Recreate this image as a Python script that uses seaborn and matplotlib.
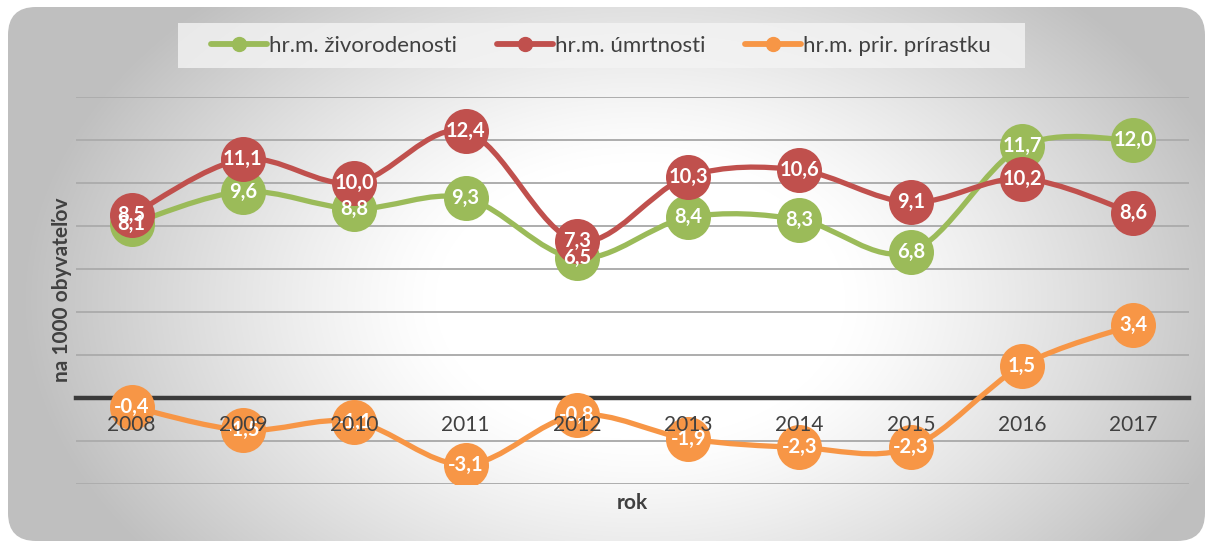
import numpy as np
import pandas as pd
import seaborn as sns
import matplotlib
matplotlib.use("Agg")
import matplotlib.pyplot as plt
from matplotlib.path import Path
from matplotlib.patches import PathPatch, FancyBboxPatch, Rectangle
from matplotlib.lines import Line2D

# ---------------- data ----------------
years = ["2008", "2009", "2010", "2011", "2012", "2013", "2014", "2015", "2016", "2017"]
births = [8.1, 9.6, 8.8, 9.3, 6.5, 8.4, 8.3, 6.8, 11.7, 12.0]
deaths = [8.5, 11.1, 10.0, 12.4, 7.3, 10.3, 10.6, 9.1, 10.2, 8.6]
natural = [-0.4, -1.5, -1.1, -3.1, -0.8, -1.9, -2.3, -2.3, 1.5, 3.4]
series_names = ["hr.m. živorodenosti", "hr.m. úmrtnosti", "hr.m. prir. prírastku"]
series_colors = ["#9BBB59", "#C0504D", "#F79646"]
y_label = "na 1000 obyvateľov"
x_label = "rok"

rows = []
for name, vals in zip(series_names, [births, deaths, natural]):
    for i, (yr, v) in enumerate(zip(years, vals)):
        rows.append({"series": name, "year": yr, "pos": i, "value": v})
df = pd.DataFrame(rows)

sns.set_theme(style="white")
plt.rcParams["font.family"] = ["Lato", "DejaVu Sans"]
TXT = "#404040"

W, H = 1208, 543
fig = plt.figure(figsize=(W / 100, H / 100), dpi=100)

# ---------- background: rounded rect with radial gradient ----------
bg = fig.add_axes([0, 0, 1, 1], zorder=-10)
bg.set_xlim(0, W)
bg.set_ylim(H, 0)
bg.axis("off")
xx, yy = np.meshgrid(np.arange(W), np.arange(H))
t = np.sqrt(((xx - 640) / 620.0) ** 2 + ((yy - 300) / 420.0) ** 2)
g = np.clip((t - 0.33) / 0.67, 0, 1) ** 1.2
lev = (255 - 64 * g) / 255.0
img = np.dstack([lev, lev, lev])
im = bg.imshow(img, extent=(0, W, H, 0), interpolation="bilinear")
clip = FancyBboxPatch((8, 7), 1197, 534, boxstyle="round,pad=0,rounding_size=28",
                      transform=bg.transData, facecolor="none", edgecolor="none")
bg.add_patch(clip)
im.set_clip_path(clip)
# legend backdrop
bg.add_patch(Rectangle((178, 23), 847, 45, facecolor="#F4F4F4", alpha=0.8,
                       edgecolor="none", zorder=2))

# ---------------- main axes ----------------
ax = fig.add_axes([76 / W, 1 - 484 / H, (1189 - 76) / W, (484 - 97) / H])
ax.set_facecolor("none")
ax.set_xlim(-0.5, len(years) - 0.5)
ax.set_ylim(-4, 14)
ax.set_yticks(np.arange(-4, 15, 2))
ax.set_yticklabels([])
ax.tick_params(axis="y", length=0)
ax.yaxis.grid(True, color="#ADADAD", linewidth=1.4)
ax.xaxis.grid(False)
ax.yaxis.set_zorder(0.5)
for s in ["top", "right", "left"]:
    ax.spines[s].set_visible(False)
ax.spines["bottom"].set_position(("data", 0))
ax.spines["bottom"].set_color("#3a3a3a")
ax.spines["bottom"].set_linewidth(3.2)
ax.spines["bottom"].set_zorder(1)
ax.set_xticks(range(len(years)))
ax.set_xticklabels(years, fontsize=15, color=TXT)
ax.tick_params(axis="x", length=0, pad=12)
ax.xaxis.set_zorder(20)


def smooth_path(xs, ys):
    pts = np.column_stack([xs, ys]).astype(float)
    n = len(pts)
    verts = [pts[0]]
    codes = [Path.MOVETO]
    for i in range(n - 1):
        p0 = pts[i - 1] if i > 0 else pts[i]
        p1 = pts[i]
        p2 = pts[i + 1]
        p3 = pts[i + 2] if i + 2 < n else pts[i + 1]
        c1 = p1 + (p2 - p0) / 6.0
        c2 = p2 - (p3 - p1) / 6.0
        verts += [c1, c2, p2]
        codes += [Path.CURVE4] * 3
    return Path(verts, codes)


for k, (name, col) in enumerate(zip(series_names, series_colors)):
    sub = df[df["series"] == name]
    patch = PathPatch(smooth_path(sub["pos"].values, sub["value"].values),
                      facecolor="none", edgecolor=col, linewidth=3.8,
                      capstyle="round", joinstyle="round", zorder=3 + k * 0.1)
    ax.add_patch(patch)
    sns.scatterplot(data=sub, x="pos", y="value", color=col, s=1050,
                    linewidth=0, ax=ax, zorder=3.05 + k * 0.1, legend=False)

for name in series_names:
    sub = df[df["series"] == name]
    for p, v in zip(sub["pos"], sub["value"]):
        ax.text(p, v, f"{v:.1f}".replace(".", ","), ha="center", va="center",
                color="white", fontsize=14.5, fontweight="bold", zorder=10)

ax.set_xlabel("")
ax.set_ylabel("")
fig.text(632 / W, 1 - 503 / H, x_label, ha="center", va="center",
         fontsize=15, fontweight="bold", color=TXT)
fig.text(62 / W, 1 - 290 / H, y_label, ha="center", va="center", rotation=90,
         fontsize=15, fontweight="bold", color=TXT)

# ---------------- legend ----------------
handles = [Line2D([0], [0], color=c, linewidth=4.2, marker="o", markersize=10,
                  solid_capstyle="round") for c in series_colors]
leg = fig.legend(handles, series_names, loc="center", ncol=3,
                 bbox_to_anchor=(601 / W, 1 - 45.5 / H), frameon=False,
                 fontsize=16, handlelength=2.5, handletextpad=0.1,
                 columnspacing=1.8, borderpad=0.3)
for txt in leg.get_texts():
    txt.set_color(TXT)

fig.savefig("out.png", dpi=100)
